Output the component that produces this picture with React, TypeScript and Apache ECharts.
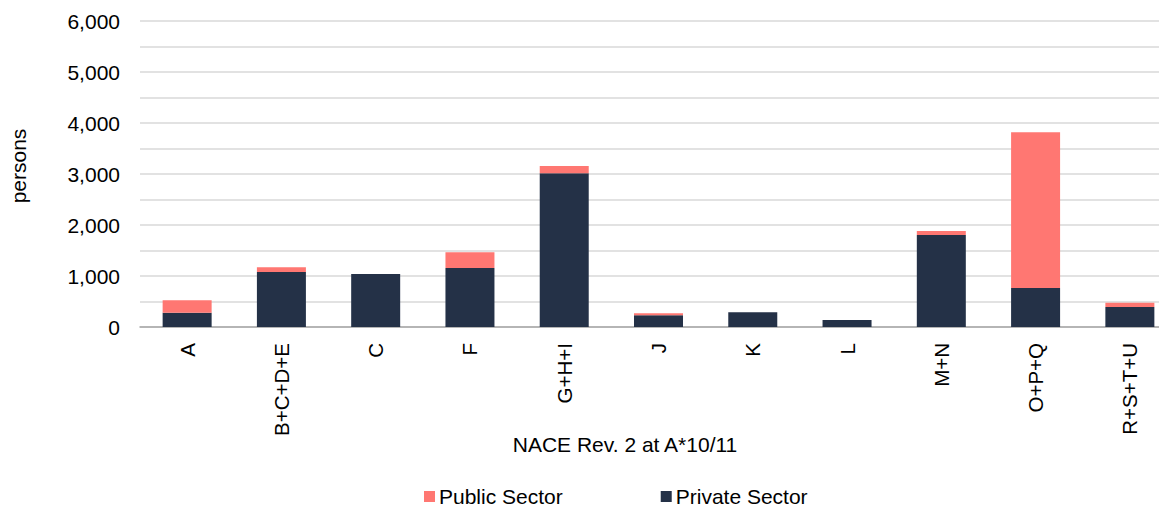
import React, { useEffect, useRef } from "react";
import * as echarts from "echarts";

const categories = ["A", "B+C+D+E", "C", "F", "G+H+I", "J", "K", "L", "M+N", "O+P+Q", "R+S+T+U"];
const privateSector = [280, 1078, 1039, 1157, 3013, 229, 288, 137, 1804, 765, 392];
const publicSector = [243, 92, 0, 307, 144, 39, 0, 0, 78, 3052, 85];
const yTicks = [0, 1000, 2000, 3000, 4000, 5000, 6000];

const FONT = "Arial, 'Liberation Sans', sans-serif";

export default function App() {
  const ref = useRef<HTMLDivElement>(null);
  useEffect(() => {
    if (!ref.current) return;
    const chart = echarts.init(ref.current, null, { renderer: "svg" });
    chart.setOption({
      animation: false,
      textStyle: { fontFamily: FONT },
      grid: { left: 140, right: 0, top: 21, bottom: 181, containLabel: false },
      legend: {
        data: ["Public Sector", "Private Sector"],
        left: 419,
        top: 481,
        icon: "rect",
        itemWidth: 11,
        itemHeight: 11,
        itemGap: 98,
        textStyle: { fontSize: 21, color: "#000", fontFamily: FONT, padding: [0, 0, 0, -1] },
      },
      xAxis: {
        type: "category",
        data: categories,
        axisLine: { show: true, lineStyle: { color: "#a6a6a6", width: 1.5 } },
        axisTick: { show: false },
        axisLabel: { rotate: 90, margin: 16, fontSize: 20.5, color: "#000", fontFamily: FONT, interval: 0 },
      },
      yAxis: {
        type: "value",
        min: 0,
        max: 6000,
        interval: 500,
        axisLine: { show: false },
        axisTick: { show: false },
        splitLine: { lineStyle: { color: "#d9d9d9", width: 1.5 } },
        axisLabel: {
          margin: 20,
          fontSize: 21,
          color: "#000",
          fontFamily: FONT,
          formatter: (v: number) => (yTicks.includes(v) ? v.toLocaleString("en-US") : ""),
        },
      },
      series: [
        {
          name: "Private Sector",
          type: "bar",
          stack: "total",
          data: privateSector,
          barWidth: 49,
          itemStyle: { color: "#243147" },
        },
        {
          name: "Public Sector",
          type: "bar",
          stack: "total",
          data: publicSector,
          barWidth: 49,
          itemStyle: { color: "#FF7772" },
        },
      ],
      graphic: [
        {
          type: "text",
          x: 18,
          y: 166,
          rotation: Math.PI / 2,
          style: {
            text: "persons",
            fontSize: 21,
            fontFamily: FONT,
            fill: "#000",
            align: "center",
            verticalAlign: "middle",
          },
        },
        {
          type: "text",
          x: 625,
          y: 444,
          style: {
            text: "NACE Rev. 2 at A*10/11",
            fontSize: 21,
            fontFamily: FONT,
            fill: "#000",
            align: "center",
            verticalAlign: "middle",
          },
        },
      ],
    });
    return () => chart.dispose();
  }, []);
  return (
    <div style={{ position: "absolute", left: 0, top: 0, width: 1159, height: 508, overflow: "hidden" }}>
      <div ref={ref} style={{ width: 1177, height: 508 }} />
    </div>
  );
}
